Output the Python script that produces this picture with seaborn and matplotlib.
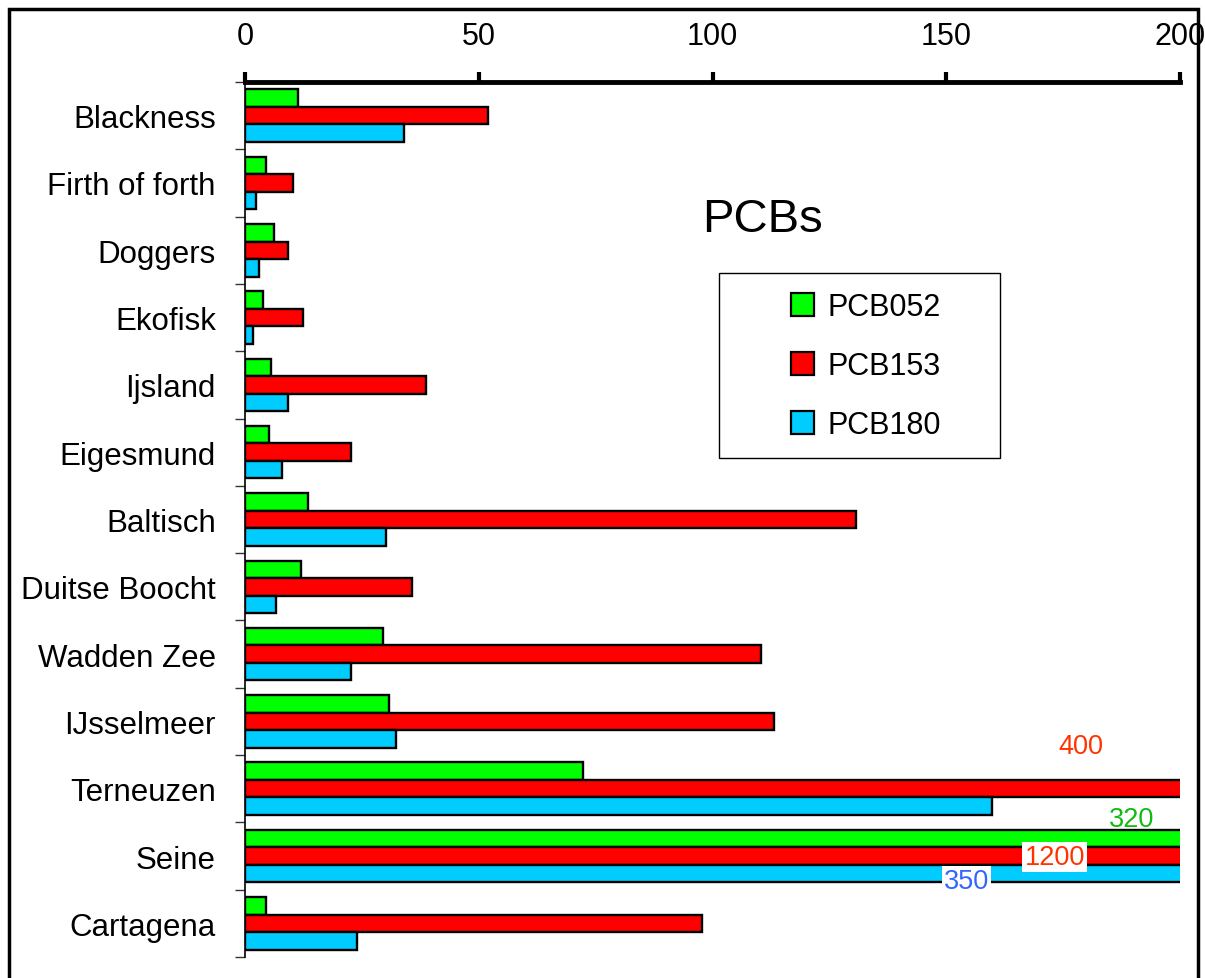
import numpy as np
import pandas as pd
import seaborn as sns
import matplotlib
matplotlib.use("Agg")
import matplotlib.pyplot as plt
from matplotlib.patches import Rectangle, Patch

sites = ["Blackness", "Firth of forth", "Doggers", "Ekofisk", "Ijsland",
         "Eigesmund", "Baltisch", "Duitse Boocht", "Wadden Zee", "IJsselmeer",
         "Terneuzen", "Seine", "Cartagena"]
congeners = ["PCB052", "PCB153", "PCB180"]
pcb052 = [11.4, 4.5, 6.2, 3.9, 5.6, 5.1, 13.5, 12.0, 29.6, 30.7, 72.2, 320, 4.5]
pcb153 = [51.9, 10.3, 9.2, 12.4, 38.8, 22.7, 130.8, 35.8, 110.4, 113.2, 400, 1200, 97.7]
pcb180 = [34.1, 2.4, 3.0, 1.7, 9.2, 7.9, 30.2, 6.6, 22.7, 32.4, 159.7, 350, 24.0]
x_ticks = [0, 50, 100, 150, 200]
x_max = 200
colors = ["#00FF00", "#FF0000", "#00CCFF"]

df = pd.DataFrame({
    "site": np.repeat(sites, 3),
    "congener": congeners * len(sites),
    "value": np.ravel(np.column_stack([pcb052, pcb153, pcb180])),
})

sns.set_style("white")
plt.rcParams["font.family"] = ["Liberation Sans", "DejaVu Sans"]
for key in ["text.color", "xtick.color", "ytick.color", "axes.labelcolor"]:
    plt.rcParams[key] = "black"

W, H = 1205, 979
fig = plt.figure(figsize=(W / 100, H / 100), dpi=100)
ax = fig.add_axes([245 / W, 1 - 958 / H, (1180 - 245) / W, (958 - 83) / H])

sns.barplot(data=df, y="site", x="value", hue="congener", orient="h",
            palette=colors, width=0.78, edgecolor="black", linewidth=1.7,
            saturation=1, legend=False, ax=ax)

ax.set_xlim(0, x_max)
ax.set_ylim(len(sites) - 0.5, -0.5)
ax.set_xlabel("")
ax.set_ylabel("")

# value axis on top
ax.xaxis.tick_top()
ax.set_xticks(x_ticks)
ax.set_xticklabels([str(t) for t in x_ticks], fontsize=22)
ax.tick_params(axis="x", direction="out", length=7, width=3, pad=15)

# category axis: labels without ticks, separators between groups
ax.set_yticks(range(len(sites)))
ax.set_yticklabels(sites, fontsize=22.5)
ax.tick_params(axis="y", which="major", length=0, pad=21)
ax.set_yticks(np.arange(-0.5, len(sites), 1.0), minor=True)
ax.tick_params(axis="y", which="minor", left=True, direction="out",
               length=7, width=1, color="#333333")

for side in ["bottom", "right"]:
    ax.spines[side].set_visible(False)
ax.spines["top"].set_linewidth(3.5)
ax.spines["top"].set_color("black")
ax.spines["left"].set_linewidth(1.2)
ax.spines["left"].set_color("black")

# values of bars that run past the axis limit
i_t = sites.index("Terneuzen")
i_s = sites.index("Seine")
ax.text(178.8, i_t - 0.63, f"{pcb153[i_t]:g}", color="#FF3300", fontsize=19.5,
        ha="center", va="center")
ax.text(189.7, i_s - 0.55, f"{pcb052[i_s]:g}", color="#11BB11", fontsize=19.5,
        ha="center", va="center")
ax.text(173.2, i_s + 0.01, f"{pcb153[i_s]:g}", color="#FF3300", fontsize=19.5,
        ha="center", va="center",
        bbox=dict(facecolor="white", edgecolor="none", pad=1.5))
ax.text(154.3, i_s + 0.37, f"{pcb180[i_s]:g}", color="#3366FF", fontsize=19.5,
        ha="center", va="center",
        bbox=dict(facecolor="white", edgecolor="none", pad=1.5))

# title inside the plot area
fig.text(762 / W, 1 - 220 / H, "PCBs", fontsize=34, ha="center", va="center")

# legend box and entries
fig.patches.append(Rectangle((719 / W, 1 - 459 / H), (1000 - 719) / W, (459 - 274) / H,
                             transform=fig.transFigure, fill=True, facecolor="white",
                             edgecolor="black", linewidth=1.0, zorder=3))
handles = [Patch(facecolor=c, edgecolor="black", linewidth=1.6) for c in colors]
leg = fig.legend(handles, congeners, loc="upper left",
                 bbox_to_anchor=(791 / W, 1 - 293 / H),
                 fontsize=22, frameon=False,
                 handlelength=0.75, handleheight=0.75, handletextpad=0.45,
                 labelspacing=0.95, borderpad=0, borderaxespad=0)
leg.set_zorder(4)

# outer frame of the chart
fig.patches.append(Rectangle((9 / W, -0.05), (1198 - 9) / W, 1.05 - 10 / H,
                             transform=fig.transFigure, fill=False,
                             edgecolor="black", linewidth=2.5))

fig.savefig("out.png", dpi=100)
